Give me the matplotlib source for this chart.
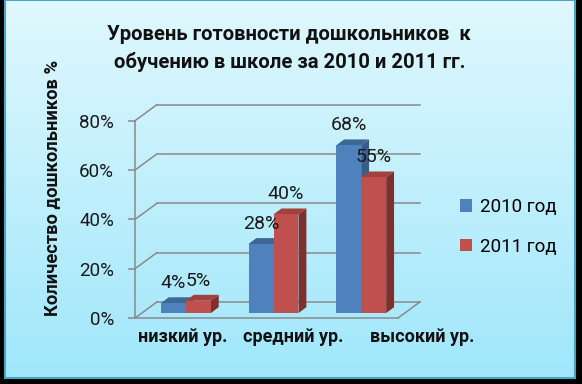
import numpy as np
import matplotlib
matplotlib.use("Agg")
import matplotlib.pyplot as plt
from matplotlib.patches import Polygon, Rectangle, Patch

plt.rcParams['font.family'] = ['Roboto', 'DejaVu Sans']

# данные
categories = ['низкий ур.', 'средний ур.', 'высокий ур.']
series_names = ['2010 год', '2011 год']
values_2010 = [4, 28, 68]
values_2011 = [5, 40, 55]
yticks = [0, 20, 40, 60, 80]

front_col = ['#4f81bd', '#c0504d']
top_col = ['#3d6896', '#a3403e']
side_col = ['#385d8a', '#7d302e']
grid_col = '#8a8a8a'

W, H = 582, 384
fig = plt.figure(figsize=(W / 100, H / 100), dpi=100)
fig.patch.set_facecolor('black')

# фон с градиентом
bg = fig.add_axes([0, 0, 1, 1])
bg.set_xlim(0, W)
bg.set_ylim(H, 0)
bg.axis('off')
grad = np.linspace(0, 1, 256)[:, None]
c_top = np.array([224, 248, 254]) / 255
c_bot = np.array([160, 231, 251]) / 255
img = c_top[None, None, :] * (1 - grad[:, :, None]) + c_bot[None, None, :] * grad[:, :, None]
bg.imshow(img, extent=[5, 575, 378, 0], aspect='auto', zorder=0)
bg.add_patch(Rectangle((5, 0), 570, 378, fill=False, edgecolor='#4aa6c2', lw=1.5, zorder=1))

# основная ось (передняя плоскость)
ax = fig.add_axes([135 / W, 66 / H, 263 / W, 197.3 / H])
ax.patch.set_alpha(0)
ax.set_xlim(-0.5, 2.5)
ax.set_ylim(0, 80)

DX, DY = 0.25, 6.5      # глубина стенок
BX, BY = 0.08, 2.0      # смещение столбиков внутрь
SX, SY = 0.09, 2.4      # глубина столбиков
bw = 0.285

# стенки и сетка
for v in yticks:
    ax.plot([-0.5, -0.5 + DX], [v, v + DY], color=grid_col, lw=1.1, clip_on=False, zorder=1)
    ax.plot([-0.5 + DX, 2.5 + DX], [v + DY, v + DY], color=grid_col, lw=1.1, clip_on=False, zorder=1)
ax.plot([2.5, 2.5 + DX], [0, DY], color=grid_col, lw=1.1, clip_on=False, zorder=1)

for s in ['top', 'right']:
    ax.spines[s].set_visible(False)
for s in ['left', 'bottom']:
    ax.spines[s].set_color(grid_col)
    ax.spines[s].set_linewidth(1.1)
ax.set_yticks(yticks)
ax.set_yticklabels([f'{v}%' for v in yticks], fontsize=13.5, color='#1a1a1a')
ax.tick_params(axis='y', direction='out', length=5, width=1.1, color=grid_col, pad=10)
ax.set_xticks([])

x = np.arange(len(categories))
for j, vals in enumerate([values_2010, values_2011]):
    x0 = x - bw + j * bw + BX
    ax.bar(x0, vals, bw, bottom=BY, align='edge', color=front_col[j], zorder=3,
           label=series_names[j])
    for xi, v in zip(x0, vals):
        top = [(xi, v + BY), (xi + bw, v + BY), (xi + bw + SX, v + BY + SY), (xi + SX, v + BY + SY)]
        side = [(xi + bw, BY), (xi + bw + SX, BY + SY), (xi + bw + SX, v + BY + SY), (xi + bw, v + BY)]
        ax.add_patch(Polygon(top, closed=True, facecolor=top_col[j], edgecolor='none', zorder=2 + j * 0.1, clip_on=False))
        ax.add_patch(Polygon(side, closed=True, facecolor=side_col[j], edgecolor='none', zorder=2 + j * 0.1, clip_on=False))
        ax.annotate(f'{v}%', (xi + bw / 2, v + BY), xytext=(0, 14.5), textcoords='offset points',
                    ha='center', va='center', fontsize=14, color='#1a1a1a', zorder=5, annotation_clip=False)

# подписи категорий
label_x = [183, 293.5, 422.5]
for lx, c in zip(label_x, categories):
    fig.text(lx / W, 1 - 337 / H, c, ha='center', va='center', fontsize=13, fontweight='bold', color='#111111')

fig.text(52 / W, 1 - 188 / H, 'Количество дошкольников %', rotation=90, ha='center', va='center',
         fontsize=13.2, fontweight='bold', color='#111111')

fig.text(0.497, 1 - 34 / H, 'Уровень готовности дошкольников  к', ha='center', va='center',
         fontsize=14.6, fontweight='bold', color='#111111')
fig.text(0.497, 1 - 62 / H, 'обучению в школе за 2010 и 2011 гг.', ha='center', va='center',
         fontsize=14.6, fontweight='bold', color='#111111')

handles = [Patch(facecolor=front_col[0]), Patch(facecolor=front_col[1])]
fig.legend(handles, series_names, loc='center left', bbox_to_anchor=(460 / W, 1 - 227 / H),
           frameon=False, fontsize=13.5, handlelength=0.65, handleheight=0.65, handletextpad=0.4,
           labelspacing=1.15, borderpad=0, borderaxespad=0)

fig.savefig('out.png', dpi=100, facecolor=fig.get_facecolor())
